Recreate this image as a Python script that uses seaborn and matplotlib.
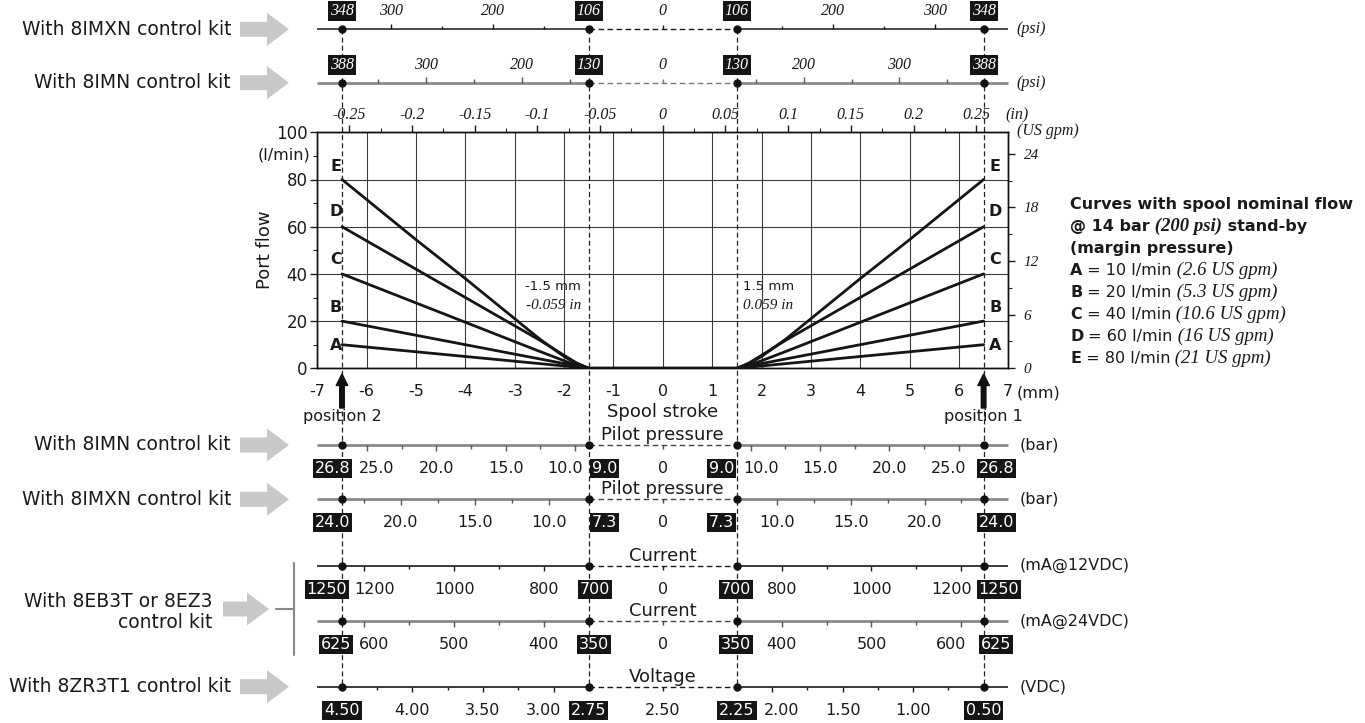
import numpy as np
import pandas as pd
import matplotlib
matplotlib.use("Agg")
import matplotlib.pyplot as plt
import seaborn as sns
from matplotlib.ticker import FixedLocator, MultipleLocator
from matplotlib.offsetbox import TextArea, HPacker, AnnotationBbox
from matplotlib.patches import Polygon

# ---------------------------------------------------------------- data
stroke_mm = [-6.5, -5.0, -4.0, -3.0, -2.5, -2.0, -1.75, -1.5,
             1.5, 1.75, 2.0, 2.5, 3.0, 4.0, 5.0, 6.5]
curve_names = ["A", "B", "C", "D", "E"]
flow_A = [10, 7, 5, 3, 2, 1, 0.45, 0, 0, 0.45, 1, 2, 3, 5, 7, 10]
flow_B = [20, 14, 10, 6, 4, 2, 0.9, 0, 0, 0.9, 2, 4, 6, 10, 14, 20]
flow_C = [40, 27.7, 19.5, 11.3, 7.2, 3.2, 1.3, 0, 0, 1.3, 3.2, 7.2, 11.3, 19.5, 27.7, 40]
flow_D = [60, 42, 30, 18, 12, 5.5, 2.3, 0, 0, 2.3, 5.5, 12, 18, 30, 42, 60]
flow_E = [80, 54.5, 38, 21, 12.5, 5, 2, 0, 0, 2, 5, 12.5, 21, 38, 54.5, 80]

nominal_lpm = [10, 20, 40, 60, 80]
nominal_gpm = ["2.6", "5.3", "10.6", "16", "21"]

flow_ticks = [0, 20, 40, 60, 80, 100]
gpm_ticks = [0, 6, 12, 18, 24]
gpm_minor = [3, 9, 15, 21]
mm_ticks = [-7, -6, -5, -4, -3, -2, -1, 0, 1, 2, 3, 4, 5, 6, 7]
in_ticks = [-0.25, -0.2, -0.15, -0.1, -0.05, 0, 0.05, 0.1, 0.15, 0.2, 0.25]
in_labels = ["-0.25", "-0.2", "-0.15", "-0.1", "-0.05", "0",
             "0.05", "0.1", "0.15", "0.2", "0.25"]
in_minor = [-0.225, -0.175, -0.125, -0.075, -0.025,
            0.025, 0.075, 0.125, 0.175, 0.225]

anchor_stroke = [-6.5, -1.5, 0.0, 1.5, 6.5]

psi_imxn_anchor = [348, 106, 0, 106, 348]
psi_imxn_ticks = [300, 250, 200, 150]
psi_imxn_labels = [300, 200]

psi_imn_anchor = [388, 130, 0, 130, 388]
psi_imn_ticks = [350, 300, 250, 200, 150]
psi_imn_labels = [300, 200]

bar_imn_anchor = [26.8, 9.0, 0, 9.0, 26.8]
bar_imn_ticks = [25, 22.5, 20, 17.5, 15, 12.5, 10]
bar_imn_labels = [25, 20, 15, 10]

bar_imxn_anchor = [24.0, 7.3, 0, 7.3, 24.0]
bar_imxn_ticks = [22.5, 20, 17.5, 15, 12.5, 10]
bar_imxn_labels = [20, 15, 10]

ma12_anchor = [1250, 700, 0, 700, 1250]
ma12_ticks = [1200, 1100, 1000, 900, 800]
ma12_labels = [1200, 1000, 800]

ma24_anchor = [625, 350, 0, 350, 625]
ma24_ticks = [600, 550, 500, 450, 400]
ma24_labels = [600, 500, 400]

vdc_anchor = [4.50, 2.75, 2.50, 2.25, 0.50]
vdc_ticks_left = [4.25, 4.0, 3.75, 3.5, 3.25, 3.0]
vdc_ticks_right = [2.0, 1.75, 1.5, 1.25, 1.0, 0.75]
vdc_labels_left = [4.0, 3.5, 3.0]
vdc_labels_right = [2.0, 1.5, 1.0]

LPM_TO_GPM = 0.264172
MM_PER_IN = 25.4

# ---------------------------------------------------------------- style
sns.set_style("white")
SANS = "DejaVu Sans"
SERIF = "Liberation Serif"
plt.rcParams["font.family"] = [SANS]
plt.rcParams["axes.unicode_minus"] = False
TXT = "#1a1a1a"

W, H = 1365, 723
AX_L, AX_R, AX_T, AX_B = 317.3, 1008.3, 132.3, 368.3
PX_PER_MM = (AX_R - AX_L) / 14.0


def X(px):
    return (px - AX_L) / PX_PER_MM - 7.0


def dmm(px):
    return px / PX_PER_MM


fig = plt.figure(figsize=(W / 100, H / 100), dpi=100)
fig.patch.set_facecolor("white")

# ---------------------------------------------------------------- main plot
ax = fig.add_axes([AX_L / W, 1 - AX_B / H, (AX_R - AX_L) / W, (AX_B - AX_T) / H])
df = pd.DataFrame({
    "stroke": np.tile(stroke_mm, len(curve_names)),
    "flow": np.concatenate([flow_A, flow_B, flow_C, flow_D, flow_E]),
    "curve": np.repeat(curve_names, len(stroke_mm)),
})
sns.lineplot(data=df, x="stroke", y="flow", hue="curve", estimator=None,
             palette=["#151515"] * 5, linewidth=2.0, legend=False, ax=ax, zorder=3)
ax.set_xlim(-7, 7)
ax.set_ylim(0, 100)
ax.set_xticks(mm_ticks)
ax.set_yticks(flow_ticks)
ax.yaxis.set_minor_locator(MultipleLocator(10))
ax.grid(True, which="major", color="#3c3c3c", lw=0.8)
ax.set_axisbelow(True)
ax.set_xlabel("")
ax.set_ylabel("")
for s in ax.spines.values():
    s.set_color("#111")
    s.set_linewidth(1.0)
ax.tick_params(axis="x", which="major", length=0, pad=11, labelsize=11.5, colors=TXT)
ax.tick_params(axis="y", which="major", length=5, width=1, pad=2, labelsize=12,
               colors=TXT, direction="out", left=True)
ax.tick_params(axis="y", which="minor", length=3, width=0.8, direction="out", left=True)

twin = ax.twinx()
twin.set_ylim(0, 100 * LPM_TO_GPM)
twin.set_yticks(gpm_ticks)
twin.yaxis.set_minor_locator(FixedLocator(gpm_minor))
twin.grid(False)
twin.tick_params(axis="y", which="major", length=5, width=1, pad=6, labelsize=11,
                 colors=TXT, direction="out", right=True)
twin.tick_params(axis="y", which="minor", length=3, width=0.8, direction="out", right=True)
for lbl in twin.get_yticklabels():
    lbl.set_fontfamily(SERIF)
    lbl.set_fontstyle("italic")
for s in twin.spines.values():
    s.set_color("#111")
    s.set_linewidth(1.0)

sec = ax.secondary_xaxis("top", functions=(lambda m: m / MM_PER_IN, lambda i: i * MM_PER_IN))
sec.set_xticks(in_ticks, labels=in_labels)
sec.xaxis.set_minor_locator(FixedLocator(in_minor))
sec.tick_params(which="major", length=5, width=1, pad=2, labelsize=11.5, colors=TXT, direction="out")
sec.tick_params(which="minor", length=3, width=0.8, direction="out")
for lbl in sec.get_xticklabels():
    lbl.set_fontfamily(SERIF)
    lbl.set_fontstyle("italic")

# curve letters
letter_rows = [9.6, 25.6, 45.9, 66.4, 85.4]
for name, yv in zip(curve_names, letter_rows):
    ax.text(-6.62, yv, name, ha="center", va="center", fontsize=11.5,
            fontweight="bold", color=TXT, zorder=5)
    ax.text(6.74, yv, name, ha="center", va="center", fontsize=11.5,
            fontweight="bold", color=TXT, zorder=5)

ax.text(-1.66, 34.8, "-1.5 mm", ha="right", va="center", fontsize=9.5, color=TXT)
ax.text(-1.66, 26.8, "-0.059 in", ha="right", va="center", fontsize=11,
        family=SERIF, style="italic", color=TXT)
ax.text(1.62, 34.8, "1.5 mm", ha="left", va="center", fontsize=9.5, color=TXT)
ax.text(1.62, 26.8, "0.059 in", ha="left", va="center", fontsize=11,
        family=SERIF, style="italic", color=TXT)

# ---------------------------------------------------------------- overlay
ov = fig.add_axes([AX_L / W, 0, (AX_R - AX_L) / W, 1])
ov.set_xlim(-7, 7)
ov.set_ylim(H, 0)
ov.axis("off")
ov.patch.set_alpha(0)

ov.text(X(310), 155, "(l/min)", ha="right", va="center", fontsize=11.5, color=TXT)
ov.text(X(265), 250, "Port flow", ha="center", va="center", rotation=90, fontsize=13, color=TXT)
ov.text(X(1017), 131, "(US gpm)", ha="left", va="center", fontsize=11.5,
        family=SERIF, style="italic", color=TXT)
ov.text(X(1005), 115, "(in)", ha="left", va="center", fontsize=11.5,
        family=SERIF, style="italic", color=TXT)
ov.text(X(1017), 392.7, "(mm)", ha="left", va="center", fontsize=11.5, color=TXT)
ov.text(0, 417.3, "Spool stroke", ha="center", va="baseline", fontsize=13, color=TXT)

# vertical dashed guides
ov.vlines([anchor_stroke[0], anchor_stroke[1], anchor_stroke[3], anchor_stroke[4]],
          29.3, 686.7, colors="#222", linestyles=(0, (4, 2.5)), lw=0.9, zorder=4)

# position arrows
for xs, lab in [(anchor_stroke[0], "position 2"), (anchor_stroke[4], "position 1")]:
    ov.annotate("", xy=(xs, 374), xytext=(xs, 408), xycoords="data",
                arrowprops=dict(arrowstyle="simple,head_length=0.55,head_width=0.55,tail_width=0.22",
                                fc="#111", ec="#111", mutation_scale=15, shrinkA=0, shrinkB=0),
                zorder=6, annotation_clip=False)
    ov.text(xs, 417, lab, ha="center", va="center", fontsize=11.5, color=TXT, zorder=6)


def gray_arrow(x0, x1, row):
    hl = 22
    pts = [(X(x0), row - 7.5), (X(x1 - hl), row - 7.5), (X(x1 - hl), row - 16.5),
           (X(x1), row), (X(x1 - hl), row + 16.5), (X(x1 - hl), row + 7.5), (X(x0), row + 7.5)]
    ov.add_patch(Polygon(pts, closed=True, fc="#c8c8c8", ec="none", clip_on=False))


box_styles = {
    "center": [("center", 0), ("center", 0), ("center", 0), ("center", 0)],
    "bar": [("right", 10), ("left", 1), ("right", -1), ("left", -7)],
    "ma12": [("right", 7), ("center", 6), ("center", -1), ("left", -7)],
    "ma24": [("right", 11), ("center", 5), ("center", -1), ("left", -5)],
}

scales = [
    dict(anchor=psi_imxn_anchor, tl=psi_imxn_ticks, tr=psi_imxn_ticks,
         ll=psi_imxn_labels, lr=psi_imxn_labels, fmt="{:.0f}", row=29.3, side="top",
         color="#1a1a1a", lw=1.1, dash="#1a1a1a", boxes="center", unit="(psi)",
         kit="With 8IMXN control kit", title=None),
    dict(anchor=psi_imn_anchor, tl=psi_imn_ticks, tr=psi_imn_ticks,
         ll=psi_imn_labels, lr=psi_imn_labels, fmt="{:.0f}", row=82.7, side="top",
         color="#8a8a8a", lw=2.0, dash="#777", boxes="center", unit="(psi)",
         kit="With 8IMN control kit", title=None),
    dict(anchor=bar_imn_anchor, tl=bar_imn_ticks, tr=bar_imn_ticks,
         ll=bar_imn_labels, lr=bar_imn_labels, fmt="{:.1f}", row=445.0, side="bottom",
         color="#8a8a8a", lw=2.0, dash="#444", boxes="bar", unit="(bar)",
         kit="With 8IMN control kit", title="Pilot pressure"),
    dict(anchor=bar_imxn_anchor, tl=bar_imxn_ticks, tr=bar_imxn_ticks,
         ll=bar_imxn_labels, lr=bar_imxn_labels, fmt="{:.1f}", row=499.3, side="bottom",
         color="#8a8a8a", lw=2.0, dash="#444", boxes="bar", unit="(bar)",
         kit="With 8IMXN control kit", title="Pilot pressure"),
    dict(anchor=ma12_anchor, tl=ma12_ticks, tr=ma12_ticks,
         ll=ma12_labels, lr=ma12_labels, fmt="{:.0f}", row=565.7, side="bottom",
         color="#1a1a1a", lw=1.2, dash="#1a1a1a", boxes="ma12", unit="(mA@12VDC)",
         kit=None, title="Current"),
    dict(anchor=ma24_anchor, tl=ma24_ticks, tr=ma24_ticks,
         ll=ma24_labels, lr=ma24_labels, fmt="{:.0f}", row=621.0, side="bottom",
         color="#8a8a8a", lw=2.0, dash="#444", boxes="ma24", unit="(mA@24VDC)",
         kit=None, title="Current"),
    dict(anchor=vdc_anchor, tl=vdc_ticks_left, tr=vdc_ticks_right,
         ll=vdc_labels_left, lr=vdc_labels_right, fmt="{:.2f}", row=686.7, side="bottom",
         color="#1a1a1a", lw=1.2, dash="#1a1a1a", boxes="center", unit="(VDC)",
         kit="With 8ZR3T1 control kit", title="Voltage"),
]


def map_left(v, a):
    return anchor_stroke[0] + (v - a[0]) / (a[1] - a[0]) * (anchor_stroke[1] - anchor_stroke[0])


def map_right(v, a):
    return anchor_stroke[4] + (v - a[4]) / (a[3] - a[4]) * (anchor_stroke[3] - anchor_stroke[4])


for sc in scales:
    a = sc["anchor"]
    row = sc["row"]
    top = sc["side"] == "top"
    sgn = -1 if top else 1
    if top:
        lab_font = dict(fontsize=11.5, family=SERIF, style="italic")
        lab_row = row - 18
    else:
        lab_font = dict(fontsize=11.5, family=SANS)
        lab_row = row + 23.5
    # lines
    ov.plot([-7, anchor_stroke[1]], [row, row], color=sc["color"], lw=sc["lw"],
            solid_capstyle="butt", zorder=3, clip_on=False)
    ov.plot([anchor_stroke[3], 7], [row, row], color=sc["color"], lw=sc["lw"],
            solid_capstyle="butt", zorder=3, clip_on=False)
    ov.plot([anchor_stroke[1], anchor_stroke[3]], [row, row], color=sc["dash"], lw=1.0,
            ls=(0, (4, 2.5)), zorder=3)
    ov.vlines(anchor_stroke[2], row, row + sgn * 4, colors=sc["dash"], lw=1.0, zorder=3)
    # ticks
    tick_col = "#1a1a1a" if sc["color"] == "#1a1a1a" else "#555"
    for vals, labs, mapper in [(sc["tl"], sc["ll"], map_left), (sc["tr"], sc["lr"], map_right)]:
        for v in vals:
            L = 5.5 if v in labs else 3.5
            ov.vlines(mapper(v, a), row, row + sgn * L, colors=tick_col, lw=1.0, zorder=3)
    # dots
    ov.plot([anchor_stroke[i] for i in (0, 1, 3, 4)], [row] * 4, "o", ms=5,
            color="#111", zorder=5, clip_on=False)
    # regular labels
    box_lines = [anchor_stroke[i] for i in (0, 1, 3, 4)]
    for labs, mapper in [(sc["ll"], map_left), (sc["lr"], map_right)]:
        for v in labs:
            xm = mapper(v, a)
            for bl in box_lines:
                dpx = (xm - bl) * PX_PER_MM
                if not top and abs(dpx) < 36:
                    xm += dmm(10 if dpx > 0 else -10)
            ov.text(xm, lab_row, sc["fmt"].format(v), ha="center", va="center",
                    color=TXT, zorder=6, **lab_font)
    # center label
    ctext = "0" if a[2] == 0 else sc["fmt"].format(a[2])
    ov.text(anchor_stroke[2], lab_row, ctext, ha="center", va="center", color=TXT,
            zorder=6, **lab_font)
    # boxed labels
    fs = lab_font["fontsize"]
    pad_frac = 0.12
    pad_px = pad_frac * fs * 100 / 72
    for (ha, edge), idx in zip(box_styles[sc["boxes"]], (0, 1, 3, 4)):
        xm = anchor_stroke[idx]
        if ha == "right":
            tx = xm + dmm(edge - pad_px)
        elif ha == "left":
            tx = xm + dmm(edge + pad_px)
        else:
            tx = xm + dmm(edge)
        ov.text(tx, lab_row, sc["fmt"].format(a[idx]), ha=ha, va="center", color="white",
                zorder=7, bbox=dict(boxstyle=f"square,pad={pad_frac}", fc="#151515", ec="none"),
                **lab_font)
    # unit
    if top:
        ov.text(X(1016), row, sc["unit"], ha="left", va="center", fontsize=11.5,
                family=SERIF, style="italic", color=TXT, clip_on=False)
    else:
        ov.text(X(1020), row, sc["unit"], ha="left", va="center", fontsize=11.5,
                color=TXT, clip_on=False)
    # title
    if sc["title"]:
        ov.text(0, row - 5, sc["title"], ha="center", va="baseline", fontsize=13,
                color=TXT, zorder=6)
    # kit label
    if sc["kit"]:
        ov.text(X(231), row, sc["kit"], ha="right", va="center", fontsize=13.5, color=TXT,
                clip_on=False)
        gray_arrow(240, 289, row)

# solenoid kit group with bracket
ov.text(X(212), 601.5, "With 8EB3T or 8EZ3", ha="right", va="center", fontsize=13.5, color=TXT)
ov.text(X(212), 623.0, "control kit", ha="right", va="center", fontsize=13.5, color=TXT)
gray_arrow(223, 269, 609)
ov.plot([X(294), X(294)], [562.7, 655], color="#888", lw=1.5, clip_on=False)
ov.plot([X(276), X(294)], [609, 609], color="#888", lw=1.5, clip_on=False)

# ---------------------------------------------------------------- legend block
bold = dict(fontfamily=SANS, fontweight="bold", fontsize=11.5, color=TXT)
reg = dict(fontfamily=SANS, fontsize=11.5, color=TXT)
ser = dict(fontfamily=SERIF, fontstyle="italic", fontsize=13.5, color=TXT)
serb = dict(fontfamily=SERIF, fontstyle="italic", fontweight="bold", fontsize=13.5, color=TXT)


def legend_row(parts, row):
    box = HPacker(children=[TextArea(t, textprops=p) for t, p in parts],
                  align="baseline", pad=0, sep=0)
    ab = AnnotationBbox(box, (1070, H - row), xycoords="figure pixels",
                        box_alignment=(0, 0.5), frameon=False, pad=0)
    fig.add_artist(ab)


legend_row([("Curves with spool nominal flow", bold)], 205)
legend_row([("@ 14 bar", bold), (" (200 psi)", serb), (" stand-by", bold)], 226)
legend_row([("(margin pressure)", bold)], 248)
for i, (name, q, g) in enumerate(zip(curve_names, nominal_lpm, nominal_gpm)):
    legend_row([(name, bold), (f" = {q} l/min", reg), (f" ({g} US gpm)", ser)], 270 + 22 * i)

fig.savefig("out.png", dpi=100)
